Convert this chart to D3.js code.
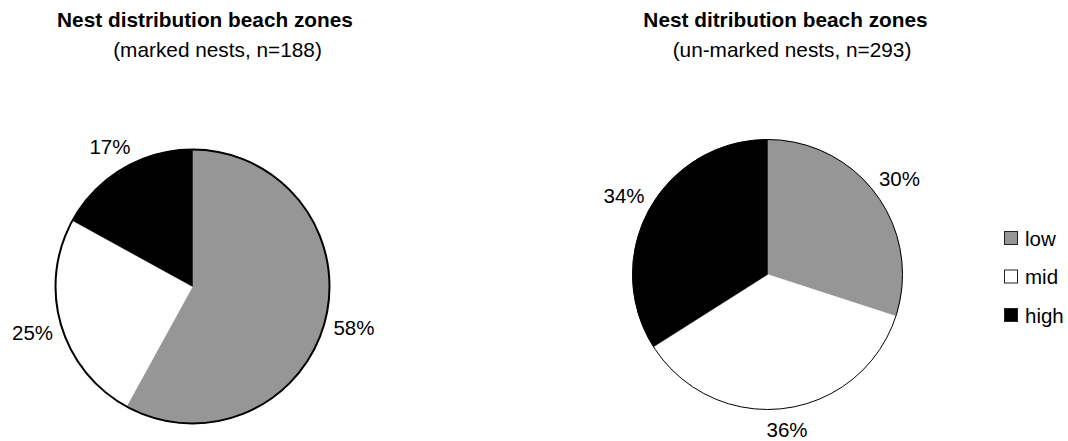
<!DOCTYPE html>
<html>
<head>
<meta charset="utf-8">
<script src="https://cdn.jsdelivr.net/npm/d3@7"></script>
<style>
  html, body { margin: 0; padding: 0; background: #fff; }
  svg { display: block; font-family: "Liberation Sans", Arial, sans-serif; }
</style>
</head>
<body>
<svg id="chart" width="1068" height="441"></svg>
<script>
const categories = ["low", "mid", "high"];
const markedValues = [58, 25, 17];
const unmarkedValues = [30, 36, 34];
const colors = ["#969696", "#ffffff", "#000000"];
const titles = ["Nest distribution beach zones", "Nest ditribution beach zones"];
const subtitles = ["(marked nests, n=188)", "(un-marked nests, n=293)"];

const svg = d3.select("#chart");
svg.append("rect").attr("width", 1068).attr("height", 441).attr("fill", "#fff");

const color = d3.scaleOrdinal().domain(categories).range(colors);
const pie = d3.pie().sort(null).value(d => d.v);

const charts = [
  { values: markedValues, cx: 192.5, cy: 286.5, r: 137, stroke: 2, tx: 205, sx: 217.5 },
  { values: unmarkedValues, cx: 767.5, cy: 274.5, r: 135, stroke: 1, tx: 785.5, sx: 792 }
];

charts.forEach((c, i) => {
  const data = categories.map((k, j) => ({ k, v: c.values[j] }));
  const arcs = pie(data);
  const arc = d3.arc().innerRadius(0).outerRadius(c.r);
  const g = svg.append("g").attr("transform", `translate(${c.cx},${c.cy})`);
  g.selectAll("path.slice").data(arcs).join("path")
    .attr("class", "slice")
    .attr("d", arc)
    .attr("fill", d => color(d.data.k))
    .attr("stroke", d => color(d.data.k))
    .attr("stroke-width", 0.5);
  g.append("circle").attr("r", c.r).attr("fill", "none")
    .attr("stroke", "#000").attr("stroke-width", c.stroke);
  g.selectAll("text.lbl").data(arcs).join("text")
    .attr("class", "lbl")
    .attr("transform", d => {
      const a = (d.startAngle + d.endAngle) / 2;
      const rr = c.r + 20 + 10 * Math.abs(Math.sin(a));
      return `translate(${rr * Math.sin(a)},${-rr * Math.cos(a)})`;
    })
    .attr("text-anchor", "middle")
    .attr("dy", "0.35em")
    .attr("font-size", 20.5)
    .attr("fill", "#000")
    .text(d => d.data.v + "%");

  svg.append("text").attr("x", c.tx).attr("y", 27)
    .attr("text-anchor", "middle").attr("font-size", 20.8).attr("font-weight", "bold")
    .text(titles[i]);
  svg.append("text").attr("x", c.sx).attr("y", 57)
    .attr("text-anchor", "middle").attr("font-size", 20.8)
    .text(subtitles[i]);
});

const legend = svg.append("g").attr("transform", "translate(1004,231)");
const ly = d3.scalePoint().domain(categories).range([0, 77]);
const items = legend.selectAll("g").data(categories).join("g")
  .attr("transform", d => `translate(0,${ly(d)})`);
items.append("rect").attr("x", 0.5).attr("y", 0.5).attr("width", 13).attr("height", 13)
  .attr("fill", d => color(d)).attr("stroke", "#222").attr("stroke-width", 1);
items.append("text").attr("x", 21).attr("y", 14.5).attr("font-size", 20.5)
  .text(d => d);
</script>
</body>
</html>
